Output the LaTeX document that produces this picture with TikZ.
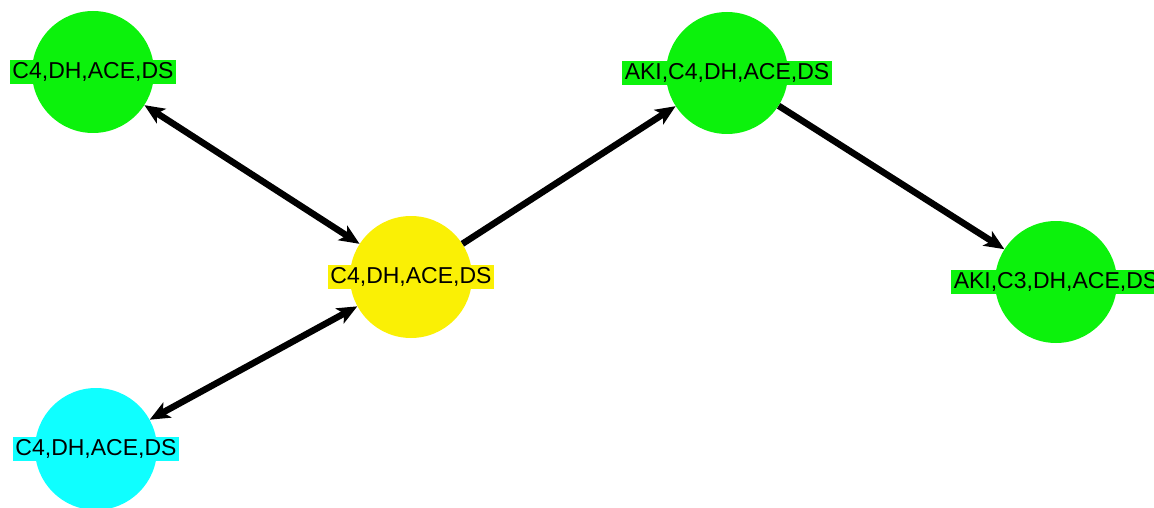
\documentclass[tikz,border=0pt]{standalone}
\usepackage{fontspec}
\setmainfont{Liberation Sans}
\usetikzlibrary{arrows.meta}
\definecolor{stategreen}{RGB}{12,242,12}
\definecolor{stateyellow}{RGB}{250,240,5}
\definecolor{statecyan}{RGB}{15,255,255}
\tikzset{
  state/.style={circle, draw=none, minimum size=122pt, inner sep=0pt},
  lab/.style={inner xsep=2.5pt, inner ysep=2.5pt, font=\fontsize{23}{25}\selectfont, text=black},
  link/.style={line width=6.5pt, draw=black, -{Stealth[length=20pt,width=17pt,inset=5pt]}},
  duallink/.style={line width=6.5pt, draw=black, {Stealth[length=20pt,width=17pt,inset=5pt]}-{Stealth[length=20pt,width=17pt,inset=5pt]}}
}
\begin{document}
\begin{tikzpicture}[x=1pt,y=-1pt]
  \useasboundingbox (0,0) rectangle (1154,508);

  % states
  \node[state, fill=stategreen]  (s1) at (93,72)   {};
  \node[state, fill=stateyellow] (s0) at (411,277) {};
  \node[state, fill=statecyan]   (s2) at (96,449)  {};
  \node[state, fill=stategreen]  (s3) at (727,73)  {};
  \node[state, fill=stategreen]  (s4) at (1056,282) {};

  % transitions
  \draw[duallink] (s1) -- (s0);
  \draw[duallink] (s2) -- (s0);
  \draw[link] (s0) -- (s3);
  \draw[link] (s3) -- (s4);

  % state labels
  \node[lab, fill=stategreen]  (l1) at (s1) {C4,DH,ACE,DS};
  \node[lab, fill=stateyellow] (l0) at (s0) {C4,DH,ACE,DS};
  \node[lab, fill=statecyan]   (l2) at (s2) {C4,DH,ACE,DS};
  \node[lab, fill=stategreen]  (l3) at (s3) {AKI,C4,DH,ACE,DS};
  \node[lab, fill=stategreen]  (l4) at (s4) {AKI,C3,DH,ACE,DS};
\end{tikzpicture}
\end{document}
